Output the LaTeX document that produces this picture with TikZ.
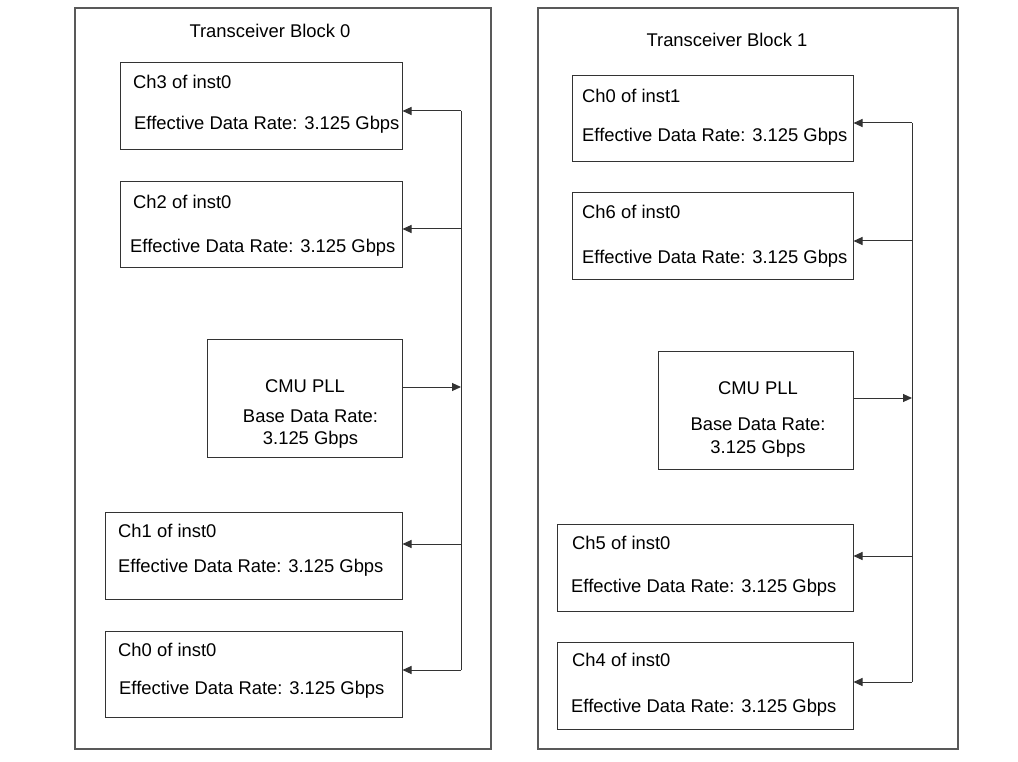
\documentclass[tikz,border=0pt]{standalone}
\usepackage{fontspec}
\setmainfont{Liberation Sans}
\usetikzlibrary{arrows.meta}
\begin{document}
\begin{tikzpicture}[x=1pt,y=-1pt,
	blk/.style={draw=black!65,line width=1.2pt,inner sep=0pt},
	box/.style={draw=black!80,line width=1pt,inner sep=0pt},
	txt/.style={anchor=base west,inner sep=0pt,font=\fontsize{18.4}{22}\selectfont},
	ctxt/.style={txt,anchor=base},
	bus/.style={draw=black!80,line width=1pt},
	arr/.style={bus,-{Triangle[length=9pt,width=8pt]}}]
	\useasboundingbox(0,0)rectangle(1018,762);
	% Transceiver Block 0
	\node[blk,minimum width=416,minimum height=741](blk0)at(283,378.5){};
	\node[ctxt](tit0)at(270,38){Transceiver Block 0};
	\node[box,minimum width=282,minimum height=87](lch3)at(261,106.5){};
	\node[box,minimum width=282,minimum height=86](lch2)at(261,225){};
	\node[box,minimum width=195,minimum height=118](pll0)at(304.5,398){};
	\node[box,minimum width=297,minimum height=87](lch1)at(253.5,555.5){};
	\node[box,minimum width=297,minimum height=86](lch0)at(253.5,674){};
	\node[txt](lch3a)at(133,88.5){Ch3 of inst0};
	\node[txt](lch3b)at(134,129.5){Effective Data Rate: 3.125 Gbps};
	\node[txt](lch2a)at(133,208.5){Ch2 of inst0};
	\node[txt](lch2b)at(130,252.5){Effective Data Rate: 3.125 Gbps};
	\node[ctxt](pll0a)at(305,392.5){CMU PLL};
	\node[ctxt](pll0b)at(310.5,422.5){Base Data Rate:};
	\node[ctxt](pll0c)at(310.5,444.5){3.125 Gbps};
	\node[txt](lch1a)at(118,537.5){Ch1 of inst0};
	\node[txt](lch1b)at(118,572.5){Effective Data Rate: 3.125 Gbps};
	\node[txt](lch0a)at(118,656.5){Ch0 of inst0};
	\node[txt](lch0b)at(119,694.5){Effective Data Rate: 3.125 Gbps};
	\coordinate(p0)at(461,387);
	\draw[bus](461,111)--(461,670);
	\draw[arr](pll0.east|-p0)--(p0);
	\foreach \n/\y in {lch3/111,lch2/229,lch1/544,lch0/670}{
		\coordinate(a\n)at(461,\y);
		\draw[arr](a\n)--(a\n-|\n.east);
	}
	% Transceiver Block 1
	\node[blk,minimum width=420,minimum height=741](blk1)at(748,378.5){};
	\node[ctxt](tit1)at(727,46.5){Transceiver Block 1};
	\node[box,minimum width=281,minimum height=86](rch0)at(712.5,119){};
	\node[box,minimum width=281,minimum height=87](rch6)at(712.5,236.5){};
	\node[box,minimum width=195,minimum height=118](pll1)at(755.5,410){};
	\node[box,minimum width=296,minimum height=87](rch5)at(705,567.5){};
	\node[box,minimum width=296,minimum height=87](rch4)at(705,685.5){};
	\node[txt](rch0a)at(582,102.5){Ch0 of inst1};
	\node[txt](rch0b)at(582,141.5){Effective Data Rate: 3.125 Gbps};
	\node[txt](rch6a)at(582,218.5){Ch6 of inst0};
	\node[txt](rch6b)at(582,263.5){Effective Data Rate: 3.125 Gbps};
	\node[ctxt](pll1a)at(758,394.5){CMU PLL};
	\node[ctxt](pll1b)at(758,430.5){Base Data Rate:};
	\node[ctxt](pll1c)at(758,453.5){3.125 Gbps};
	\node[txt](rch5a)at(572,549.5){Ch5 of inst0};
	\node[txt](rch5b)at(571,592.5){Effective Data Rate: 3.125 Gbps};
	\node[txt](rch4a)at(572,666.5){Ch4 of inst0};
	\node[txt](rch4b)at(571,712.5){Effective Data Rate: 3.125 Gbps};
	\coordinate(p1)at(912,398);
	\draw[bus](912,123)--(912,682);
	\draw[arr](pll1.east|-p1)--(p1);
	\foreach \n/\y in {rch0/123,rch6/241,rch5/556,rch4/682}{
		\coordinate(a\n)at(912,\y);
		\draw[arr](a\n)--(a\n-|\n.east);
	}
\end{tikzpicture}
\end{document}
